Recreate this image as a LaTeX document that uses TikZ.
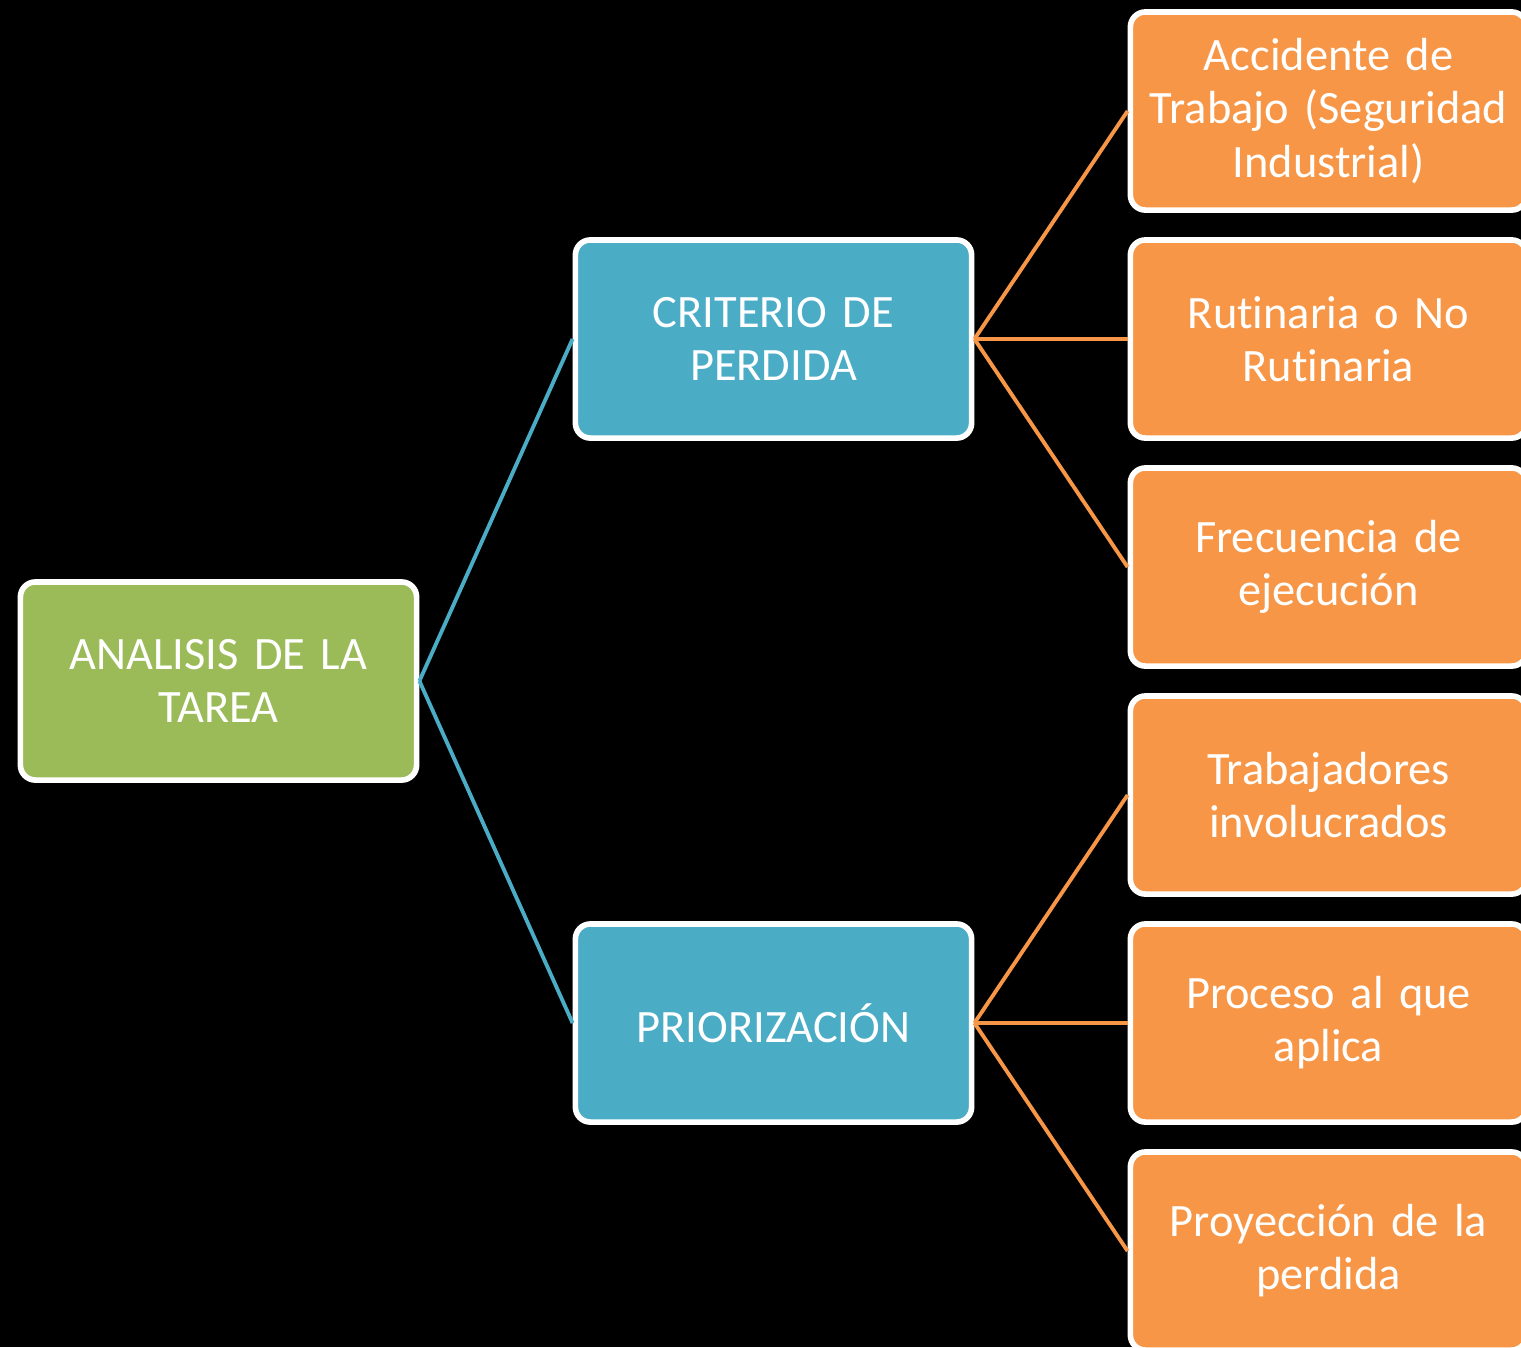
\documentclass[tikz,border=0pt]{standalone}
\usepackage{fontspec}
\setmainfont{Carlito}[Ligatures=NoCommon, WordSpace=0.75]
\definecolor{tareagreen}{HTML}{9BBB59}
\definecolor{critblue}{HTML}{4BACC6}
\definecolor{itemorange}{HTML}{F79646}
\begin{document}
\begin{tikzpicture}[x=0.01cm,y=-0.01cm,
    box/.style={draw=white, line width=1.6pt, rounded corners=0.15cm,
        minimum width=3.96cm, minimum height=1.98cm, text width=3.7cm,
        inner xsep=0.05cm, align=center, text=white,
        font=\fontsize{13.2}{15.1}\selectfont},
    bluelink/.style={draw=critblue, line width=1.1pt},
    orangelink/.style={draw=itemorange, line width=1.1pt}]
        \fill[black] (0,0) rectangle (1521,1347);
        \clip (0,0) rectangle (1521,1347);
        \node[box, fill=tareagreen] (tarea) at (218.5,681) {ANALISIS DE LA\\TAREA};
        \node[box, fill=critblue] (criterio) at (773.5,339) {CRITERIO DE\\PERDIDA};
        \node[box, fill=critblue] (prior) at (773.5,1023) {PRIORIZACIÓN};
        \draw[bluelink] (tarea.east) -- (criterio.west);
        \draw[bluelink] (tarea.east) -- (prior.west);
        \foreach \n/\y/\p/\t in {acc/111/criterio/{Accidente de\\Trabajo (Seguridad\\Industrial)},
                rut/339/criterio/{Rutinaria o No\\Rutinaria},
                frec/567/criterio/{Frecuencia de\\ejecución},
                trab/795/prior/{Trabajadores\\involucrados},
                proc/1023/prior/{Proceso al que\\aplica},
                proy/1251/prior/{Proyección de la\\perdida}} {
            \node[box, fill=itemorange] (\n) at (1328.5,\y) {\t};
            \draw[orangelink] (\p.east) -- (\n.west);
        }
\end{tikzpicture}
\end{document}
